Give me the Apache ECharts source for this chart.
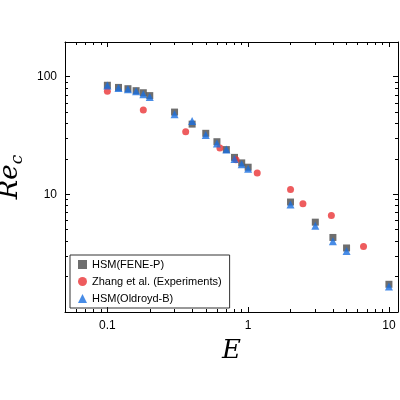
<!DOCTYPE html>
<html><head><meta charset="utf-8">
<script src="https://cdn.jsdelivr.net/npm/echarts@6/dist/echarts.min.js"></script>
<style>html,body{margin:0;background:#fff}#c{width:400px;height:400px}</style>
</head><body><div id="c"></div>
<script>
var simE = [0.1, 0.12, 0.14, 0.16, 0.18, 0.2, 0.3, 0.4, 0.5, 0.6, 0.7, 0.8, 0.9, 1, 2, 3, 4, 5, 10];
var feneRe = [84.5, 81, 79, 76, 73, 69, 50, 39.5, 33, 28, 24, 20.6, 18.5, 17, 8.6, 5.8, 4.3, 3.5, 1.72];
var oldroydRe = [84, 80, 78, 75, 71, 67, 48, 42, 32, 27, 24, 20, 18, 16.5, 8.2, 5.4, 4.0, 3.3, 1.65];
var expE = [0.1, 0.18, 0.36, 0.63, 0.82, 1.16, 2.0, 2.45, 3.9, 6.6];
var expRe = [75, 52, 34, 24.8, 19.7, 15.2, 11, 8.3, 6.6, 3.6];

function pairs(xs, ys) { return xs.map(function (x, i) { return [x, ys[i]]; }); }

var font = 'Liberation Sans';
var myChart = echarts.init(document.getElementById('c'));
var axBase = {
	type: 'log', logBase: 10,
	axisLine: { show: true, lineStyle: { color: '#000', width: 1 } },
	axisTick: { show: true, inside: true, length: 5, lineStyle: { color: '#000' } },
	minorTick: { show: true, splitNumber: 9, length: 3, lineStyle: { color: '#000' } },
	splitLine: { show: false },
	axisLabel: { color: '#000', fontSize: 12, fontFamily: font, showMinLabel: false, showMaxLabel: false }
};
function ax(extra) { return Object.assign({}, axBase, extra); }

myChart.setOption({
	animation: false,
	grid: { left: 65, right: 2, top: 42, bottom: 88, containLabel: false, outerBoundsMode: 'none' },
	xAxis: [
		ax({ min: 0.05, max: 11.6, position: 'bottom',
			name: 'E', nameLocation: 'middle', nameGap: 26,
			nameTextStyle: { fontFamily: 'DejaVu Serif', fontStyle: 'italic', fontSize: 26, color: '#000' } }),
		ax({ min: 0.05, max: 11.6, position: 'top', axisLabel: { show: false } })
	],
	yAxis: [
		ax({ min: 1, max: 197, position: 'left',
			name: '{a|Re}{b|c}', nameLocation: 'middle', nameGap: 36,
			nameTextStyle: { rich: {
				a: { fontFamily: 'DejaVu Serif', fontStyle: 'italic', fontSize: 26, color: '#000' },
				b: { fontFamily: 'DejaVu Serif', fontStyle: 'italic', fontSize: 17, color: '#000', padding: [14, 0, 0, 0] }
			} } }),
		ax({ min: 1, max: 197, position: 'right', axisLabel: { show: false } })
	],
	legend: {
		orient: 'vertical', left: 70, top: 255, itemWidth: 9, itemHeight: 9, itemGap: 6,
		borderColor: '#333', borderWidth: 1, borderRadius: 0, padding: [4, 8, 4, 8],
		textStyle: { fontFamily: font, fontSize: 11, color: '#000' },
		data: ['HSM(FENE-P)', 'Zhang et al. (Experiments)', 'HSM(Oldroyd-B)']
	},
	series: [
		{ name: 'HSM(FENE-P)', type: 'scatter', symbol: 'rect', symbolSize: 7,
			itemStyle: { color: '#4a4a4a' }, data: pairs(simE, feneRe) },
		{ name: 'Zhang et al. (Experiments)', type: 'scatter', symbol: 'circle', symbolSize: 7,
			itemStyle: { color: '#ea3336' }, data: pairs(expE, expRe) },
		{ name: 'HSM(Oldroyd-B)', type: 'scatter', symbol: 'triangle', symbolSize: 8,
			itemStyle: { color: '#1a6fe0' }, data: pairs(simE, oldroydRe) }
	]
});
</script></body></html>
